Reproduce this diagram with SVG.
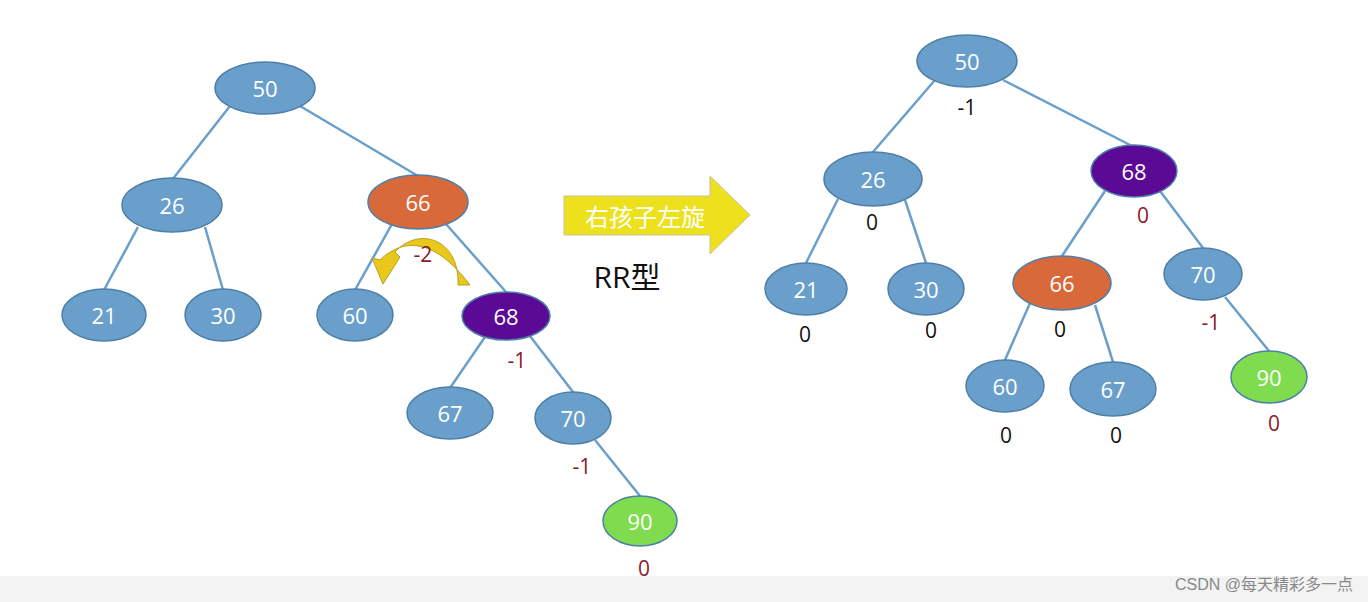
<svg xmlns="http://www.w3.org/2000/svg" width="1368" height="602" viewBox="0 0 1368 602">
<style>
.n{fill:#6a9fcb;stroke:#4d7fa8;stroke-width:1.5}
.o{fill:#d8693a;stroke:#4d7fa8;stroke-width:1.5}
.p{fill:#5a0a94;stroke:#4d7fa8;stroke-width:1.5}
.g{fill:#7fdc4e;stroke:#4d7fa8;stroke-width:1.5}
.t{font-family:"Open Sans","Liberation Sans",sans-serif;font-size:22px;fill:#fff;text-anchor:middle;dominant-baseline:central}
.b{font-family:"Open Sans","Liberation Sans",sans-serif;font-size:21px;fill:#111;text-anchor:middle;dominant-baseline:central}
.r{fill:#8b1a2a}
#edges line{stroke:#6a9fcb;stroke-width:2.5}
</style>
<rect width="1368" height="602" fill="#fff"/>
<rect y="576" width="1368" height="26" fill="#f3f3f3"/>
<g id="edges">
<line x1="230" y1="106" x2="172" y2="180"/><line x1="300" y1="106" x2="418" y2="176"/>
<line x1="138" y1="227" x2="104" y2="290"/><line x1="205" y1="227" x2="223" y2="290"/>
<line x1="392" y1="224" x2="355" y2="290"/><line x1="446" y1="224" x2="506" y2="292"/>
<line x1="485" y1="337" x2="450" y2="388"/><line x1="530" y1="336" x2="573" y2="392"/>
<line x1="595" y1="440" x2="640" y2="496"/>
<line x1="935" y1="80" x2="873" y2="152"/><line x1="1003" y1="80" x2="1134" y2="147"/>
<line x1="838" y1="199" x2="806" y2="263"/><line x1="905" y1="200" x2="926" y2="263"/>
<line x1="1105" y1="191" x2="1062" y2="256"/><line x1="1160" y1="191" x2="1203" y2="248"/>
<line x1="1030" y1="303" x2="1005" y2="360"/><line x1="1095" y1="305" x2="1113" y2="362"/>
<line x1="1225" y1="297" x2="1269" y2="351"/>
</g>
<path d="M458,285 C460,240 420,225 395,252 L400,257 L383,284 L372,258 L380,260 C405,236 436,240 470,285 Z" fill="#e8c81a" stroke="#b8a020" stroke-width="1"/>
<path d="M564,196 H710 V176 L750,215 L710,254 V235 H564 Z" fill="#ece11c" stroke="#c9c0a0" stroke-width="1"/>
<text x="645" y="215" style="font-family:'Noto Sans CJK SC',sans-serif;font-size:24px;fill:#fff;text-anchor:middle;dominant-baseline:central">右孩子左旋</text>
<text x="627" y="276" style="font-family:'Open Sans','Noto Sans CJK SC',sans-serif;font-size:30px;fill:#111;text-anchor:middle;dominant-baseline:central">RR型</text>
<g id="L50"><ellipse class="n" cx="265" cy="88" rx="50" ry="26"/><text class="t" x="265" y="88">50</text></g>
<g id="L26"><ellipse class="n" cx="172" cy="205" rx="50" ry="27"/><text class="t" x="172" y="205">26</text></g>
<g id="L66"><ellipse class="o" cx="418" cy="202" rx="50" ry="27"/><text class="t" x="418" y="202">66</text><text class="b r" x="423" y="254">-2</text></g>
<g id="L21"><ellipse class="n" cx="104" cy="315" rx="42" ry="26"/><text class="t" x="104" y="315">21</text></g>
<g id="L30"><ellipse class="n" cx="223" cy="315" rx="38" ry="26"/><text class="t" x="223" y="315">30</text></g>
<g id="L60"><ellipse class="n" cx="355" cy="315" rx="38" ry="26"/><text class="t" x="355" y="315">60</text></g>
<g id="L68"><ellipse class="p" cx="506" cy="316" rx="44" ry="24"/><text class="t" x="506" y="316">68</text><text class="b r" x="517" y="360">-1</text></g>
<g id="L67"><ellipse class="n" cx="450" cy="413" rx="43" ry="26"/><text class="t" x="450" y="413">67</text></g>
<g id="L70"><ellipse class="n" cx="573" cy="418" rx="38" ry="26"/><text class="t" x="573" y="418">70</text><text class="b r" x="582" y="466">-1</text></g>
<g id="L90"><ellipse class="g" cx="640" cy="521" rx="37" ry="25"/><text class="t" x="640" y="521">90</text><text class="b r" x="644" y="568">0</text></g>
<g id="R50"><ellipse class="n" cx="967" cy="61" rx="50" ry="26"/><text class="t" x="967" y="61">50</text><text class="b" x="967" y="107">-1</text></g>
<g id="R26"><ellipse class="n" cx="873" cy="179" rx="49" ry="27"/><text class="t" x="873" y="179">26</text><text class="b" x="872" y="222">0</text></g>
<g id="R68"><ellipse class="p" cx="1134" cy="171" rx="43" ry="26"/><text class="t" x="1134" y="171">68</text><text class="b r" x="1143" y="215">0</text></g>
<g id="R21"><ellipse class="n" cx="806" cy="289" rx="41" ry="26"/><text class="t" x="806" y="289">21</text><text class="b" x="805" y="334">0</text></g>
<g id="R30"><ellipse class="n" cx="926" cy="289" rx="38" ry="26"/><text class="t" x="926" y="289">30</text><text class="b" x="931" y="330">0</text></g>
<g id="R66"><ellipse class="o" cx="1062" cy="283" rx="49" ry="27"/><text class="t" x="1062" y="283">66</text><text class="b" x="1060" y="329">0</text></g>
<g id="R70"><ellipse class="n" cx="1203" cy="274" rx="39" ry="26"/><text class="t" x="1203" y="274">70</text><text class="b r" x="1211" y="322">-1</text></g>
<g id="R60"><ellipse class="n" cx="1005" cy="386" rx="39" ry="26"/><text class="t" x="1005" y="386">60</text><text class="b" x="1006" y="435">0</text></g>
<g id="R67"><ellipse class="n" cx="1113" cy="389" rx="43" ry="27"/><text class="t" x="1113" y="389">67</text><text class="b" x="1116" y="435">0</text></g>
<g id="R90"><ellipse class="g" cx="1269" cy="377" rx="38" ry="26"/><text class="t" x="1269" y="377">90</text><text class="b r" x="1274" y="423">0</text></g>
<text x="1353" y="584" style="font-family:'Liberation Sans','Noto Sans CJK SC',sans-serif;font-size:16px;fill:#888;text-anchor:end;dominant-baseline:central">CSDN @每天精彩多一点</text>
</svg>
